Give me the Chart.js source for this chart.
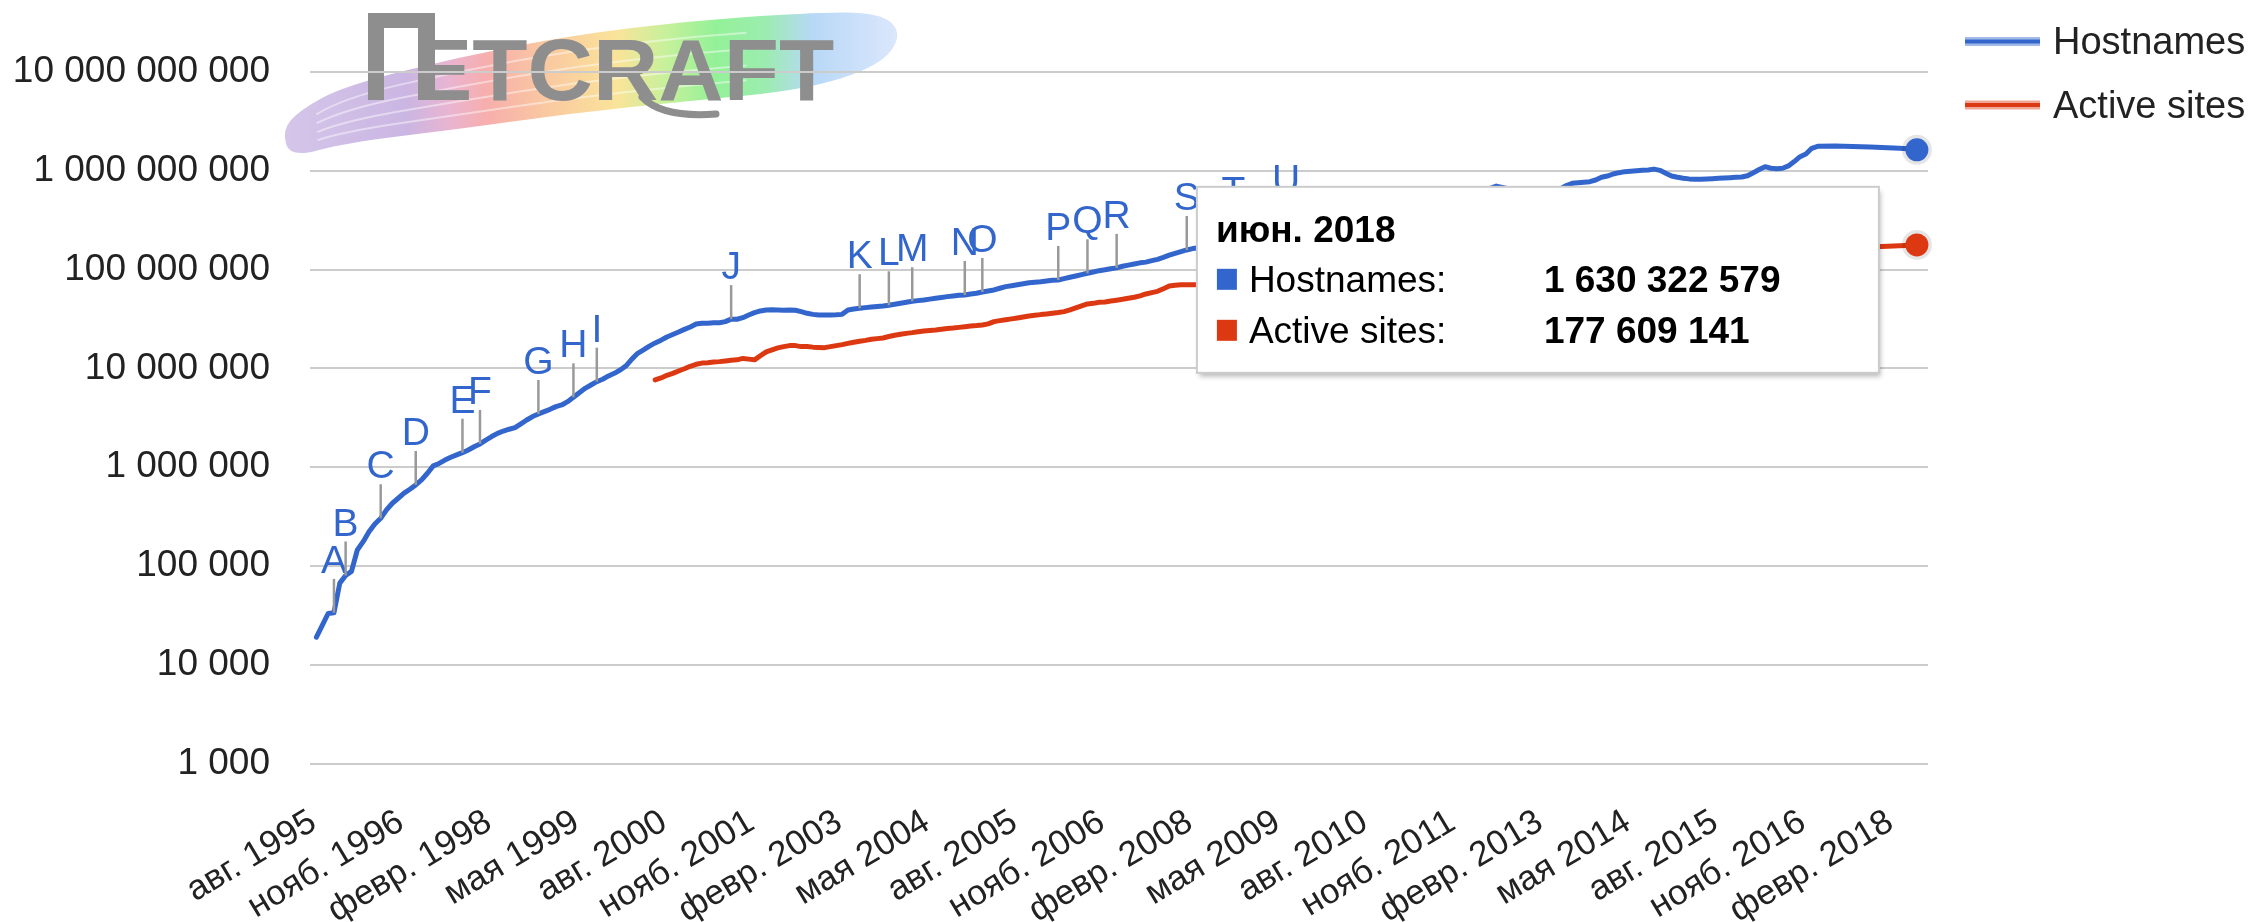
<!DOCTYPE html>
<html><head><meta charset="utf-8">
<script src="https://cdn.jsdelivr.net/npm/chart.js@4.4.1/dist/chart.umd.min.js"></script>
<style>html,body{margin:0;padding:0;background:#fff;overflow:hidden}canvas{display:block}</style>
</head><body>
<canvas id="c" width="2249" height="922" style="width:2249px;height:922px"></canvas>
<script>
// ---- data ----
const monthNames = ['янв.','февр.','мар.','апр.','мая','июн.','июл.','авг.','сент.','окт.','нояб.','дек.'];
const startYear = 1995, startMonth = 7; // month index 0 = авг. 1995
const xTickMonths = [0,15,30,45,60,75,90,105,120,135,150,165,180,195,210,225,240,255,270];
const xTickLabels = ['авг. 1995','нояб. 1996','февр. 1998','мая 1999','авг. 2000','нояб. 2001','февр. 2003','мая 2004','авг. 2005','нояб. 2006','февр. 2008','мая 2009','авг. 2010','нояб. 2011','февр. 2013','мая 2014','авг. 2015','нояб. 2016','февр. 2018'];
const yTickValues = [1e3,1e4,1e5,1e6,1e7,1e8,1e9,1e10];
const seriesNames = ['Hostnames','Active sites'];

const hostnamesMonths = [0,1,2,3,4,5,6,7,8,9,10,11,12,13,14,15,16,17,18,19,20,21,22,23,24,25,26,27,28,29,30,31,32,33,34,35,36,37,38,39,40,41,42,43,44,45,46,47,48,49,50,51,52,53,54,55,56,57,58,59,60,61,62,63,64,65,66,67,68,69,70,71,72,73,74,75,76,77,78,79,80,81,82,83,84,85,86,87,88,89,90,91,92,93,94,95,96,97,98,99,100,101,102,103,104,105,106,107,108,109,110,111,112,113,114,115,116,117,118,119,120,121,122,123,124,125,126,127,128,129,130,131,132,133,134,135,136,137,138,139,140,141,142,143,144,145,146,147,148,149,150,153,155,157,160,163,166,169,172,175,178,181,184,187,190,193,196,199,202,205,208,211,213,214,215,216,217,218,219,220,221,222,223,224,225,226,227,228,229,230,231,232,233,234,235,236,237,238,239,240,241,242,243,244,245,246,247,248,249,250,251,252,253,254,255,256,257,260,263,266,269,271,273,274];
const hostnamesValues = [19000,25000,33000,33500,67000,80000,88000,145000,176000,222000,266000,304000,369000,431000,484000,545000,597000,660000,742000,867000,1030000,1090000,1180000,1260000,1330000,1400000,1490000,1610000,1720000,1880000,2040000,2200000,2320000,2420000,2510000,2740000,3000000,3250000,3450000,3650000,3850000,4100000,4260000,4600000,5090000,5670000,6280000,6790000,7330000,7760000,8380000,8910000,9630000,10600000,12400000,14200000,15400000,16800000,18100000,19300000,20800000,22000000,23300000,24800000,26200000,28100000,28600000,28600000,29000000,29000000,29700000,31500000,31400000,32600000,34700000,36600000,38100000,39000000,39200000,39000000,38800000,38900000,38700000,37500000,36100000,35200000,34700000,34700000,34600000,34800000,35200000,39000000,39900000,40600000,41200000,41800000,42300000,42800000,43500000,44500000,45600000,46700000,47800000,48500000,49200000,50200000,51300000,52200000,53200000,54100000,55000000,55300000,56600000,57500000,59300000,60700000,62200000,64700000,67200000,68700000,70300000,71900000,73600000,74400000,75300000,76500000,77800000,78500000,81000000,83600000,86200000,88900000,91700000,94500000,97500000,99500000,102000000,104000000,108000000,111000000,114000000,117000000,119000000,123000000,127000000,133000000,140000000,146000000,152000000,158000000,163000000,170000000,176000000,182000000,186000000,215000000,238000000,226000000,233000000,206000000,205000000,212000000,235000000,255000000,300000000,350000000,480000000,600000000,700000000,640000000,630000000,645000000,660000000,710000000,747000000,755000000,765000000,776000000,807000000,859000000,885000000,928000000,957000000,980000000,990000000,1000000000,1010000000,1020000000,1040000000,1010000000,944000000,885000000,859000000,840000000,828000000,820000000,820000000,825000000,832000000,838000000,845000000,852000000,858000000,865000000,890000000,957000000,1030000000,1100000000,1060000000,1050000000,1060000000,1120000000,1240000000,1390000000,1480000000,1690000000,1770000000,1780000000,1760000000,1740000000,1710000000,1690000000,1660000000,1630322579];

const activeMonths = [58,59,60,61,62,63,64,65,66,67,68,69,70,71,72,73,74,75,76,77,78,79,80,81,82,83,84,85,86,87,88,89,90,91,92,93,94,95,96,97,98,99,100,101,102,103,104,105,106,107,108,109,110,111,112,113,114,115,116,117,118,119,120,121,122,123,124,125,126,127,128,129,130,131,132,133,134,135,136,137,138,139,140,141,142,143,144,145,146,147,148,149,150,155,160,165,170,175,180,185,190,195,200,205,210,215,220,225,230,235,240,245,250,255,260,264,268,271,274];
const activeValues = [7640000,8000000,8500000,8900000,9400000,9900000,10500000,11000000,11300000,11400000,11600000,11700000,11900000,12100000,12200000,12600000,12400000,12200000,13400000,14700000,15400000,16100000,16600000,17000000,17000000,16600000,16600000,16400000,16300000,16200000,16600000,17000000,17400000,17900000,18400000,18800000,19200000,19700000,20000000,20300000,21000000,21600000,22100000,22600000,23000000,23500000,23900000,24200000,24500000,24900000,25300000,25600000,26000000,26400000,26800000,27100000,27500000,28200000,29700000,30400000,31100000,31700000,32400000,33100000,33900000,34400000,35000000,35500000,36100000,36700000,37500000,39000000,40900000,42800000,44900000,45500000,46600000,47000000,48100000,49000000,50000000,51200000,52500000,54100000,56600000,58400000,60200000,64000000,68200000,69500000,70300000,70300000,70300000,71000000,72000000,73000000,76000000,82000000,88000000,95000000,105000000,170000000,185000000,182000000,181000000,179000000,180000000,181000000,178000000,175000000,172000000,171000000,170000000,172000000,172000000,171000000,171000000,174000000,177609141];

const annotationLetters = ['A','B','C','D','E','F','G','H','I','J','K','L','M','N','O','P','Q','R','S','T','U'];
const annotationMonths = [3,5,11,17,25,28,38,44,48,71,93,98,102,111,114,127,132,137,149,157,166];

// ---- style ----
const BLUE = '#3366cc', RED = '#dc3912';
const FONT = '"Liberation Sans", Arial, sans-serif';
const X_ROTATION = 31;
Chart.defaults.font.family = FONT;

function fmt(v){ return String(Math.round(v)).replace(/\B(?=(\d{3})+(?!\d))/g, ' '); }
function monthLabel(i){ const t = startMonth + i; return monthNames[t % 12] + ' ' + (startYear + Math.floor(t / 12)); }

const hostData = hostnamesMonths.map((m, i) => ({x: m, y: hostnamesValues[i]}));
const activeData = activeMonths.map((m, i) => ({x: m, y: activeValues[i]}));

function smoothPath(ctx, pts, closed) {
  ctx.moveTo((pts[0][0] + pts[1][0]) / 2, (pts[0][1] + pts[1][1]) / 2);
  const n = pts.length;
  for (let i = 1; i < (closed ? n + 1 : n - 1); i++) {
    const p = pts[i % n], q = pts[(i + 1) % n];
    ctx.quadraticCurveTo(p[0], p[1], (p[0] + q[0]) / 2, (p[1] + q[1]) / 2);
  }
}

const logoPlugin = {
  id: 'logo',
  beforeDraw(chart) {
    const ctx = chart.ctx;
    ctx.save();
    const g = ctx.createLinearGradient(284, 0, 900, 0);
    g.addColorStop(0.00, 'rgba(198,178,226,0.75)');
    g.addColorStop(0.20, 'rgba(200,178,225,0.95)');
    g.addColorStop(0.27, 'rgba(232,176,206,0.95)');
    g.addColorStop(0.33, 'rgba(247,170,168,0.95)');
    g.addColorStop(0.42, 'rgba(249,196,156,0.95)');
    g.addColorStop(0.54, 'rgba(250,226,148,0.95)');
    g.addColorStop(0.62, 'rgba(196,240,150,0.95)');
    g.addColorStop(0.70, 'rgba(142,240,146,0.95)');
    g.addColorStop(0.78, 'rgba(150,236,170,0.95)');
    g.addColorStop(0.86, 'rgba(176,212,246,0.9)');
    g.addColorStop(1.00, 'rgba(190,212,250,0.55)');
    ctx.fillStyle = g;
    const shape = [[282,130],[300,110],[344,86],[459,57],[574,35],[689,21],[804,13],[880,12],[903,34],[880,66],[804,90],[689,101],[574,113],[459,129],[344,143],[290,158]];
    ctx.beginPath();
    smoothPath(ctx, shape, true);
    ctx.closePath();
    ctx.fill();
    ctx.strokeStyle = 'rgba(255,255,255,0.45)';
    ctx.lineWidth = 2;
    const U = [[288,126],[344,88],[459,59],[574,37],[689,23],[804,16]];
    const L = [[292,154],[344,141],[459,127],[574,111],[689,99],[804,88]];
    [0.18, 0.4, 0.62, 0.82].forEach(k => {
      const P = U.map((p, j) => [p[0] + k * (L[j][0] - p[0]), p[1] + k * (L[j][1] - p[1])]);
      ctx.beginPath();
      smoothPath(ctx, P, false);
      ctx.stroke();
    });
    ctx.fillStyle = '#8e8e8e';
    ctx.fillRect(368, 13, 67, 15);
    ctx.fillRect(368, 13, 16, 87);
    ctx.fillRect(418, 13, 17, 87);
    ctx.font = 'bold 87px ' + FONT;
    ctx.textBaseline = 'alphabetic';
    ctx.textAlign = 'left';
    ctx.save();
    ctx.translate(412, 100);
    ctx.scale(1.04, 1);
    ctx.fillText('ETCRAFT', 0, 0);
    ctx.restore();
    ctx.strokeStyle = '#8e8e8e';
    ctx.lineWidth = 7;
    ctx.lineCap = 'round';
    ctx.beginPath();
    ctx.moveTo(642, 97);
    ctx.quadraticCurveTo(662, 118, 716, 114);
    ctx.stroke();
    ctx.restore();
  }
};

const annotationPlugin = {
  id: 'annotations',
  afterDatasetsDraw(chart) {
    const ctx = chart.ctx, xs = chart.scales.x, ys = chart.scales.y;
    ctx.save();
    annotationMonths.forEach((m, k) => {
      const idx = hostnamesMonths.indexOf(m);
      const px = xs.getPixelForValue(m);
      const py = ys.getPixelForValue(hostnamesValues[idx]);
      ctx.strokeStyle = '#999999';
      ctx.lineWidth = 2.5;
      ctx.beginPath();
      ctx.moveTo(px, py);
      ctx.lineTo(px, py - 34);
      ctx.stroke();
      ctx.fillStyle = BLUE;
      ctx.font = '39px ' + FONT;
      ctx.textAlign = 'center';
      ctx.textBaseline = 'alphabetic';
      ctx.fillText(annotationLetters[k], px, py - 40);
    });
    chart.data.datasets.forEach((ds, di) => {
      const meta = chart.getDatasetMeta(di);
      const pt = meta.data[meta.data.length - 1];
      ctx.fillStyle = 'rgba(0,0,0,0.10)';
      ctx.beginPath(); ctx.arc(pt.x, pt.y, 15, 0, Math.PI * 2); ctx.fill();
      ctx.fillStyle = ds.borderColor;
      ctx.beginPath(); ctx.arc(pt.x, pt.y, 11.5, 0, Math.PI * 2); ctx.fill();
    });
    const legendY = [41.5, 105];
    const legendBase = [53.5, 118];
    chart.data.datasets.forEach((ds, di) => {
      ctx.strokeStyle = ds.borderColor;
      ctx.globalAlpha = 0.45;
      ctx.lineWidth = 9;
      ctx.lineCap = 'butt';
      ctx.beginPath(); ctx.moveTo(1965, legendY[di]); ctx.lineTo(2040, legendY[di]); ctx.stroke();
      ctx.globalAlpha = 1;
      ctx.lineWidth = 4;
      ctx.beginPath(); ctx.moveTo(1965, legendY[di]); ctx.lineTo(2040, legendY[di]); ctx.stroke();
      ctx.fillStyle = '#222222';
      ctx.font = '38px ' + FONT;
      ctx.textAlign = 'left';
      ctx.fillText(ds.label, 2053, legendBase[di]);
    });
    ctx.restore();
  }
};

const tooltipPlugin = {
  id: 'fixedTooltip',
  afterDraw(chart) {
    const ctx = chart.ctx;
    const m0 = chart.getDatasetMeta(0);
    const p0 = m0.data[m0.data.length - 1];
    const bx = p0.x - 38 - 682, by = p0.y + 37, bw = 682, bh = 186;
    ctx.save();
    ctx.shadowColor = 'rgba(0,0,0,0.28)';
    ctx.shadowBlur = 5;
    ctx.shadowOffsetX = 2;
    ctx.shadowOffsetY = 4;
    ctx.fillStyle = '#ffffff';
    ctx.fillRect(bx, by, bw, bh);
    ctx.shadowColor = 'transparent';
    ctx.strokeStyle = '#cccccc';
    ctx.lineWidth = 2;
    ctx.strokeRect(bx, by, bw, bh);
    const lastIdx = hostnamesMonths[hostnamesMonths.length - 1];
    ctx.fillStyle = '#000000';
    ctx.textAlign = 'left';
    ctx.textBaseline = 'alphabetic';
    ctx.font = 'bold 37px ' + FONT;
    ctx.fillText(monthLabel(lastIdx), bx + 19, by + 55);
    const rows = [
      [BLUE, seriesNames[0] + ':', hostnamesValues[hostnamesValues.length - 1], 105.5, 82],
      [RED, seriesNames[1] + ':', activeValues[activeValues.length - 1], 156, 133]
    ];
    rows.forEach(r => {
      ctx.fillStyle = r[0];
      ctx.fillRect(bx + 20, by + r[4], 20, 21);
      ctx.fillStyle = '#000000';
      ctx.font = '37px ' + FONT;
      ctx.fillText(r[1], bx + 52, by + r[3]);
      ctx.font = 'bold 37px ' + FONT;
      ctx.fillText(fmt(r[2]), bx + 347, by + r[3]);
    });
    ctx.restore();
  }
};

new Chart(document.getElementById('c'), {
  type: 'line',
  data: {
    datasets: [
      {label: seriesNames[0], data: hostData, borderColor: BLUE, backgroundColor: BLUE, borderWidth: 5, pointRadius: 0, tension: 0, fill: false, borderJoinStyle: 'round', borderCapStyle: 'round'},
      {label: seriesNames[1], data: activeData, borderColor: RED, backgroundColor: RED, borderWidth: 5, pointRadius: 0, tension: 0, fill: false, borderJoinStyle: 'round', borderCapStyle: 'round'}
    ]
  },
  options: {
    responsive: false,
    animation: false,
    events: [],
    layout: {padding: {top: 72, right: 321, bottom: 0, left: 0}},
    plugins: {legend: {display: false}, tooltip: {enabled: false}, title: {display: false}},
    scales: {
      x: {
        type: 'linear', min: -1.1, max: 275.9,
        grid: {display: false}, border: {display: false},
        afterBuildTicks: s => { s.ticks = xTickMonths.map(v => ({value: v})); },
        afterFit: s => { s.height = 158.5; },
        ticks: {
          autoSkip: false, minRotation: X_ROTATION, maxRotation: X_ROTATION, padding: 30, labelOffset: -3,
          color: '#222222', font: {size: 35},
          callback: v => { const k = xTickMonths.indexOf(v); return k >= 0 ? xTickLabels[k] : ''; }
        }
      },
      y: {
        type: 'logarithmic', min: 1000, max: 1e10, position: 'left',
        grid: {color: '#cccccc', lineWidth: 2, drawTicks: false}, border: {display: false},
        afterBuildTicks: s => { s.ticks = yTickValues.map(v => ({value: v})); },
        afterFit: s => { s.width = 310; },
        ticks: {padding: 40, color: '#222222', font: {size: 37}, callback: v => fmt(v)}
      }
    }
  },
  plugins: [logoPlugin, annotationPlugin, tooltipPlugin]
});
</script>
</body></html>
